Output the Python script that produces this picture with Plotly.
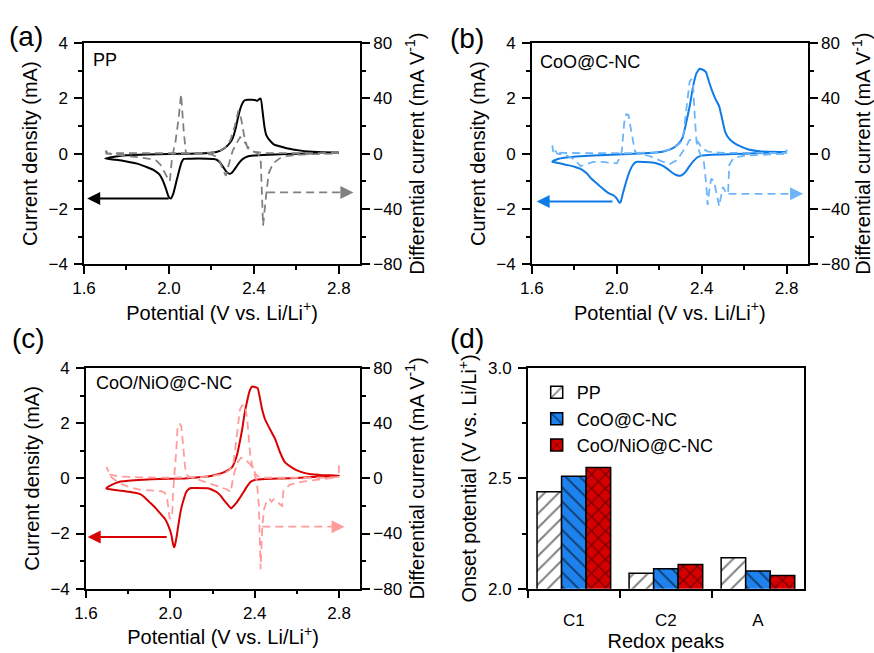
import plotly.graph_objects as go

# ---------------- data ----------------
# (a) PP : CV current (mA) and differential current (mA V-1)
pp_cv_v = [2.80, 2.70, 2.60, 2.50, 2.44, 2.40, 2.37, 2.35, 2.33, 2.31, 2.295, 2.285, 2.27, 2.255, 2.24, 2.225,
           2.21, 2.18, 2.10, 2.07, 2.06, 2.05, 2.035, 2.02, 2.008, 1.998, 1.985, 1.97, 1.955, 1.93, 1.90, 1.85,
           1.80, 1.75, 1.70,
           1.72, 1.75, 1.80, 1.90, 2.00, 2.10, 2.20, 2.24, 2.27, 2.29, 2.30, 2.315, 2.327, 2.34, 2.355, 2.37,
           2.39, 2.405, 2.415, 2.425, 2.432, 2.443, 2.45, 2.458, 2.48, 2.497, 2.52, 2.56, 2.62, 2.70, 2.80]
pp_cv_i = [0.03, 0.02, 0.00, -0.03, -0.05, -0.07, -0.10, -0.18, -0.33, -0.55, -0.70, -0.73, -0.65, -0.48, -0.32,
           -0.22, -0.19, -0.18, -0.18, -0.19, -0.30, -0.55, -1.00, -1.45, -1.62, -1.55, -1.25, -0.95, -0.75, -0.60,
           -0.50, -0.36, -0.28, -0.22, -0.175,
           -0.14, -0.10, -0.06, -0.03, -0.01, 0.00, 0.03, 0.10, 0.25, 0.42, 0.56, 0.95, 1.37, 1.72, 1.92, 1.95,
           1.95, 1.94, 1.91, 1.97, 1.99, 1.37, 0.95, 0.67, 0.43, 0.32, 0.27, 0.19, 0.11, 0.06, 0.04]
pp_di_v = [2.80, 2.70, 2.55, 2.45, 2.40, 2.37, 2.35, 2.335, 2.32, 2.30, 2.29, 2.28, 2.268, 2.255, 2.24, 2.22,
           2.20, 2.10, 2.08, 2.07, 2.057, 2.045, 2.03, 2.015, 2.004, 1.995, 1.98, 1.96, 1.94, 1.90, 1.85, 1.80,
           1.75, 1.71, 1.70,
           1.705, 1.75, 1.90, 2.00, 2.10, 2.20, 2.24, 2.27, 2.29, 2.31, 2.327, 2.34, 2.355, 2.37, 2.39, 2.42,
           2.432, 2.443, 2.452, 2.458, 2.47, 2.49, 2.52, 2.56, 2.65, 2.80]
pp_di_i = [0.5, 0.3, 0.0, 0.3, 1.5, 5, 10, 12, 8, 2, -3, -10, -16, -12, -6, -2,
           -0.5, 0, 0.5, 15, 43, 25, 8, -2, -20, -18, -14, -8, -5, -3.5, -2.5, -1.5,
           -1, 0, 4,
           0, 0.3, 0.2, 0.2, 0.3, 0.8, 2, 5, 10, 20, 31, 25, 12, 4, 2, 0,
           -5, -52, -35, -29, -14, -7, -3.5, -1.5, -0.5, 0.2]

# (b) CoO@C-NC
coo_cv_v = [2.80, 2.70, 2.60, 2.50, 2.45, 2.40, 2.38, 2.36, 2.34, 2.325, 2.31, 2.297, 2.28, 2.26, 2.24, 2.22,
            2.20, 2.17, 2.13, 2.09, 2.075, 2.06, 2.045, 2.03, 2.018, 2.012, 2.00, 1.987, 1.96, 1.94, 1.91,
            1.88, 1.86, 1.83, 1.80, 1.76, 1.72, 1.697,
            1.70, 1.72, 1.76, 1.83, 1.95, 2.06, 2.15, 2.22, 2.26, 2.29, 2.31, 2.325, 2.343, 2.36, 2.375,
            2.39, 2.40, 2.42, 2.435, 2.45, 2.465, 2.482, 2.495, 2.51, 2.527, 2.55, 2.58, 2.62, 2.68, 2.80]
coo_cv_i = [0.05, 0.03, 0.00, -0.03, -0.04, -0.07, -0.13, -0.28, -0.48, -0.65, -0.76, -0.80, -0.77, -0.68,
            -0.56, -0.45, -0.38, -0.32, -0.30, -0.30, -0.42, -0.65, -1.00, -1.40, -1.75, -1.77, -1.62, -1.52,
            -1.42, -1.30, -1.10, -0.90, -0.72, -0.55, -0.47, -0.40, -0.33, -0.30,
            -0.27, -0.20, -0.14, -0.09, -0.05, -0.01, 0.02, 0.08, 0.18, 0.35, 0.58, 1.05, 1.70, 2.45, 2.90,
            3.07, 3.05, 2.95, 2.58, 2.25, 1.97, 1.72, 1.30, 0.80, 0.56, 0.40, 0.27, 0.15, 0.08, 0.06]
coo_di_v = [2.80, 2.798, 2.70, 2.60, 2.50, 2.43, 2.40, 2.385, 2.374, 2.36, 2.343, 2.33, 2.315, 2.30, 2.28,
            2.25, 2.22, 2.19, 2.15, 2.10, 2.086, 2.07, 2.055, 2.045, 2.035, 2.024, 2.015, 2.00, 1.97, 1.93,
            1.89, 1.86, 1.83, 1.80, 1.76, 1.72, 1.697,
            1.70, 1.71, 1.75, 1.90, 2.05, 2.20, 2.27, 2.30, 2.315, 2.33, 2.343, 2.352, 2.36, 2.368, 2.376,
            2.39, 2.41, 2.42, 2.428, 2.436, 2.445, 2.458, 2.47, 2.482, 2.492, 2.50, 2.51, 2.524, 2.53, 2.55,
            2.60, 2.70, 2.80]
coo_di_i = [3, 0.5, 0.5, 0.3, 0.5, 1.5, 4, 8, 10, 10, 10, 6, 2, -1, -5,
            -7.5, -6, -4, -1.5, 0, 1.5, 15, 28, 28.5, 22, 2, -3, -7, -6.5, -6,
            -6, -7.5, -9, -4, -1, 0, 6,
            2, 1, 0.5, 0.3, 0.3, 1, 4, 8, 15, 35, 52, 54, 48, 25, 8,
            1, -6, -20, -37, -26, -18, -20, -30, -38, -30, -24, -27, -29, -8, -3,
            -1.4, -0.5, 0]

# (c) CoO/NiO@C-NC
cni_cv_v = [2.80, 2.70, 2.60, 2.53, 2.45, 2.40, 2.38, 2.364, 2.345, 2.33, 2.317, 2.30, 2.289, 2.275, 2.255,
            2.24, 2.224, 2.20, 2.177, 2.12, 2.099, 2.085, 2.075, 2.06, 2.05, 2.04, 2.03, 2.022, 2.018, 2.012,
            2.005, 1.995, 1.975, 1.95, 1.927, 1.90, 1.88, 1.86, 1.834, 1.80, 1.756, 1.72, 1.697,
            1.70, 1.72, 1.756, 1.83, 1.912, 2.068, 2.15, 2.192, 2.23, 2.255, 2.28, 2.294, 2.305, 2.317, 2.33,
            2.34, 2.352, 2.364, 2.375, 2.387, 2.40, 2.414, 2.424, 2.434, 2.45, 2.475, 2.497, 2.52, 2.543,
            2.575, 2.598, 2.63, 2.66, 2.72, 2.80]
cni_cv_i = [0.10, 0.06, 0.02, 0.00, -0.02, -0.06, -0.13, -0.29, -0.52, -0.70, -0.85, -1.00, -1.09, -0.98,
            -0.80, -0.64, -0.52, -0.42, -0.36, -0.35, -0.35, -0.40, -0.50, -0.85, -1.15, -1.60, -2.10, -2.42,
            -2.50, -2.35, -2.05, -1.80, -1.47, -1.25, -1.05, -0.85, -0.70, -0.58, -0.52, -0.48, -0.44, -0.40,
            -0.37,
            -0.33, -0.24, -0.13, -0.07, -0.03, 0.00, 0.05, 0.09, 0.16, 0.23, 0.33, 0.42, 0.60, 0.88, 1.35,
            1.75, 2.35, 2.80, 3.15, 3.33, 3.32, 3.28, 2.95, 2.55, 2.13, 1.75, 1.43, 0.95, 0.59,
            0.40, 0.30, 0.21, 0.16, 0.12, 0.10]
cni_di_v = [2.80, 2.798, 2.70, 2.60, 2.50, 2.43, 2.41, 2.395, 2.38, 2.36, 2.335, 2.32, 2.305, 2.295, 2.286,
            2.27, 2.25, 2.224, 2.19, 2.146, 2.10, 2.08, 2.07, 2.06, 2.052, 2.044, 2.035, 2.028, 2.02, 2.013,
            2.008, 1.997, 1.985, 1.974, 1.958, 1.92, 1.88, 1.85, 1.80, 1.756, 1.72, 1.697,
            1.71, 1.75, 1.85, 2.00, 2.15, 2.25, 2.28, 2.30, 2.315, 2.33, 2.34, 2.355, 2.365, 2.372, 2.38,
            2.395, 2.41, 2.42, 2.428, 2.432, 2.436, 2.445, 2.458, 2.47, 2.48, 2.49, 2.505, 2.52, 2.53, 2.536,
            2.566, 2.62, 2.69, 2.75, 2.80]
cni_di_i = [9.5, 1, 0.5, 0.3, 0.2, 0.5, 2, 6, 10, 13, 15, 12, 5, -2, -10,
            -8, -7, -6, -4, -1.5, 0.5, 2, 8, 25, 38, 39.5, 39, 20, 3, -10,
            -29, -29, -15, -10.5, -9.3, -9, -8.5, -8, -6, -3.4, 1, 8.3,
            3, 1.5, 0.8, 0.5, 1, 3, 6, 12, 30, 50, 53, 53, 42, 31, 15,
            5, -2, -20, -66, -50, -35, -22, -16, -15, -17, -15, -16, -19, -20, -9,
            -4.6, -2.5, -1, 0, 1]

# (d) onset potentials
peaks = ["C1", "C2", "A"]
onset_pp = [2.44, 2.07, 2.14]
onset_coo = [2.51, 2.09, 2.08]
onset_cni = [2.55, 2.11, 2.06]
bar_names = ["PP", "CoO@C-NC", "CoO/NiO@C-NC"]

# arrows: [tail_V, head_V, value]
arrow_a_cv = [2.006, 1.615, -1.62]
arrow_a_di = [2.462, 2.868, -28]
arrow_b_cv = [1.987, 1.623, -1.73]
arrow_b_di = [2.526, 2.877, -29]
arrow_c_cv = [1.99, 1.608, -2.13]
arrow_c_di = [2.436, 2.826, -35]

# ---------------- figure ----------------
W, H = 874, 653
FONT = "Liberation Sans, Arial, sans-serif"

def dom_x(l, r):
    return [l / W, r / W]

def dom_y(t, b):
    return [1 - b / H, 1 - t / H]

top_y = dom_y(35, 263)
bot_y = dom_y(370, 597)

fig = go.Figure()

panels = [
    ("x", "y", "y2", pp_cv_v, pp_cv_i, pp_di_v, pp_di_i, "#000000", "#808080", arrow_a_cv, arrow_a_di),
    ("x2", "y3", "y4", coo_cv_v, coo_cv_i, coo_di_v, coo_di_i, "#0f7be6", "#6db5fa", arrow_b_cv, arrow_b_di),
    ("x3", "y5", "y6", cni_cv_v, cni_cv_i, cni_di_v, cni_di_i, "#d80000", "#ff9c9c", arrow_c_cv, arrow_c_di),
]

annotations = []
for xa, yl, yr, cv_v, cv_i, di_v, di_i, c_sol, c_dash, arr_cv, arr_di in panels:
    fig.add_trace(go.Scatter(x=cv_v, y=cv_i, mode="lines", xaxis=xa, yaxis=yl, showlegend=False,
                             line=dict(color=c_sol, width=2, shape="spline", smoothing=0.4)))
    fig.add_trace(go.Scatter(x=di_v, y=di_i, mode="lines", xaxis=xa, yaxis=yr, showlegend=False,
                             line=dict(color=c_dash, width=1.8, dash="8px,5px")))
    fig.add_trace(go.Scatter(x=[arr_di[0], arr_di[1] - 0.03], y=[arr_di[2], arr_di[2]], mode="lines",
                             xaxis=xa, yaxis=yr, showlegend=False,
                             line=dict(color=c_dash, width=1.8, dash="8px,5px")))
    annotations.append(dict(x=arr_di[1], y=arr_di[2], xref=xa, yref=yr, ax=-10, ay=0, text="",
                            showarrow=True, arrowhead=2, arrowsize=1.3, arrowwidth=2, arrowcolor=c_dash))
    annotations.append(dict(x=arr_cv[1], y=arr_cv[2], xref=xa, yref=yl, ax=arr_cv[0], ay=arr_cv[2],
                            axref=xa, ayref=yl, text="", showarrow=True, arrowhead=2, arrowsize=1.3,
                            arrowwidth=2, arrowcolor=c_sol))

# bars
bar_styles = [("white", "/"), ("#1e82ee", "\\"), ("#d40000", "x")]
for name, vals, (col, shp) in zip(bar_names, [onset_pp, onset_coo, onset_cni], bar_styles):
    fig.add_trace(go.Bar(x=peaks, y=vals, name=name, xaxis="x4", yaxis="y7",
                         marker=dict(color=col, line=dict(color="black", width=1.5),
                                     pattern=dict(shape=shp, fgcolor="black", fillmode="overlay",
                                                  size=10, solidity=0.2))))

TICK = 17
TITLE = 20
tickfont = dict(family=FONT, size=TICK, color="black")
titlefont = dict(family=FONT, size=TITLE, color="black")
common = dict(showline=True, linecolor="black", linewidth=1.5, ticks="outside", ticklen=8, tickwidth=1.5,
              tickcolor="black", showgrid=False, zeroline=False, tickfont=tickfont)

def minor(d):
    return dict(dtick=d, ticks="outside", ticklen=4, tickwidth=1.5, tickcolor="black")

def xcv(domain, anchor):
    return dict(domain=domain, anchor=anchor, range=[1.6, 2.9], tick0=1.6, dtick=0.4, tickformat=".1f",
                mirror=True, minor=minor(0.2), ticklabelstandoff=0,
                title=dict(text="Potential (V vs. Li/Li<sup>+</sup>)", font=titlefont, standoff=0), **common)

def yleft(domain, anchor):
    return dict(domain=domain, anchor=anchor, range=[-4, 4], dtick=2, minor=minor(1), ticklabelstandoff=3,
                title=dict(text="Current density (mA)", font=titlefont, standoff=5), **common)

def yright(over, anchor):
    return dict(overlaying=over, anchor=anchor, side="right", range=[-80, 80], dtick=40, minor=minor(20),
                title=dict(text="Differential current (mA V<sup>-1</sup>)", font=titlefont, standoff=2),
                **common)

layout = dict(
    width=W, height=H, margin=dict(l=0, r=0, t=0, b=0), paper_bgcolor="white", plot_bgcolor="white",
    font=dict(family=FONT, color="black"),
    xaxis=xcv(dom_x(73, 353), "y"),
    yaxis=yleft(top_y, "x"),
    yaxis2=yright("y", "x"),
    xaxis2=xcv(dom_x(527, 807), "y3"),
    yaxis3=yleft(top_y, "x2"),
    yaxis4=yright("y3", "x2"),
    xaxis3=xcv(dom_x(75, 353), "y5"),
    yaxis5=yleft(bot_y, "x3"),
    yaxis6=yright("y5", "x3"),
    xaxis4=dict(domain=dom_x(523, 803), anchor="y7", mirror=True, tickson="boundaries", ticklabelstandoff=15,
                title=dict(text="Redox peaks", font=titlefont, standoff=0), **common),
    yaxis7=dict(domain=bot_y, anchor="x4", range=[2.0, 3.0], dtick=0.5, tickformat=".1f", mirror=True,
                minor=minor(0.25), ticklabelstandoff=3,
                title=dict(text="Onset potential (V vs. Li/Li<sup>+</sup>)", font=titlefont, standoff=6),
                **common),
    barmode="group", bargap=0.2, bargroupgap=0,
    legend=dict(x=532 / W, y=1 - 376 / H, xanchor="left", yanchor="top", bgcolor="rgba(0,0,0,0)",
                font=dict(family=FONT, size=18, color="black"), tracegroupgap=0, itemwidth=30),
    showlegend=True,
)

# panel labels
for txt, x, y in [("(a)", -5, 28), ("(b)", 442, 30), ("(c)", -2, 339), ("(d)", 442, 339)]:
    annotations.append(dict(text=txt, x=x / W, y=1 - y / H, xref="paper", yref="paper", xanchor="left",
                            yanchor="middle", showarrow=False, font=dict(family=FONT, size=28, color="black")))
# sample names
for txt, xa, ya, x, y in [("PP", "x", "y", 0.025, 0.925), ("CoO@C-NC", "x2", "y3", 0.021, 0.912),
                          ("CoO/NiO@C-NC", "x3", "y5", 0.029, 0.934)]:
    annotations.append(dict(text=txt, x=x, y=y, xref=xa + " domain", yref=ya + " domain", xanchor="left",
                            yanchor="middle", showarrow=False, font=dict(family=FONT, size=18, color="black")))

layout["annotations"] = annotations
fig.update_layout(**layout)
fig.write_html("out.html")
